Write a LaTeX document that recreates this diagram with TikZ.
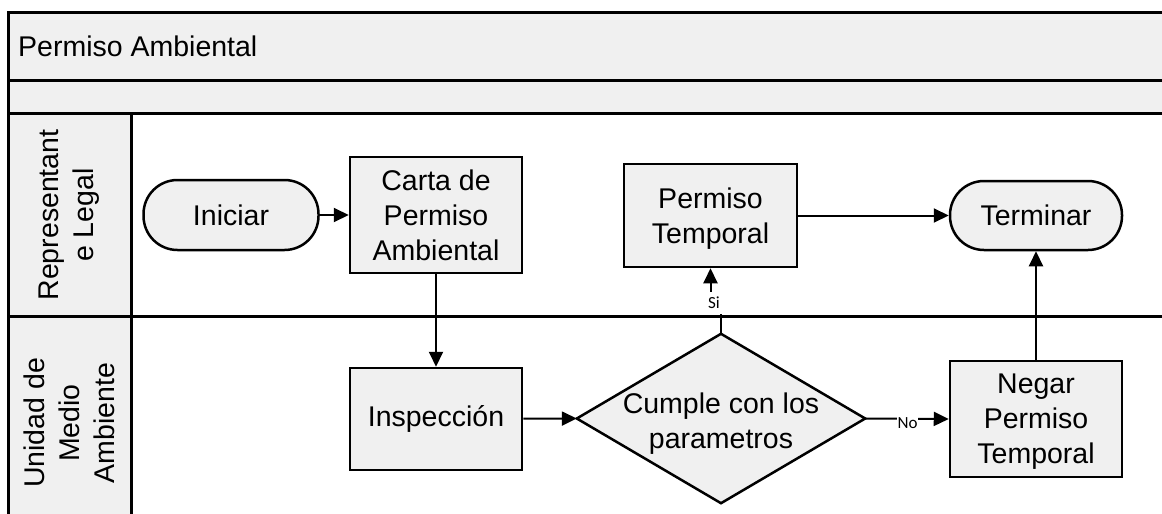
\documentclass[tikz,border=0pt]{standalone}
\usepackage{fontspec}
\setmainfont{Liberation Sans}
\newfontfamily\lblfont{Carlito}
\usetikzlibrary{arrows.meta}
\definecolor{boxgray}{HTML}{F0F0F0}
\tikzset{
  frameline/.style={line width=3pt},
  maintext/.style={font=\fontsize{28.5}{35}\selectfont, align=center, inner sep=0pt},
  procbox/.style={draw, line width=2.5pt, fill=boxgray, minimum width=172pt, align=center, inner sep=0pt, font=\fontsize{28.5}{35}\selectfont},
  termbox/.style={procbox, rounded corners=34pt, minimum height=69pt},
  conn/.style={line width=2pt, -{Triangle[length=15pt,width=14pt]}},
  cond/.style={font=\lblfont\fontsize{17}{20}\selectfont, fill=white, inner sep=1pt},
}
\begin{document}
\begin{tikzpicture}[x=1pt,y=-1pt]
\useasboundingbox (0,0) rectangle (1162,514);
% pool and lanes
\fill[boxgray] (8,12) rectangle (1175,113);
\fill[boxgray] (8,113) rectangle (131,525);
\draw[frameline] (1175,12) -- (8,12) -- (8,525);
\draw[frameline] (8,80) -- (1175,80);
\draw[frameline] (8,113) -- (1175,113);
\draw[frameline] (8,316) -- (1175,316);
\draw[frameline] (131,113) -- (131,525);
\node[maintext, anchor=west] (title) at (18,46) {Permiso Ambiental};
\node[maintext, rotate=90] (lane1) at (69.5,215) {Representant\\e Legal};
\node[maintext, rotate=90] (lane2) at (69.5,423) {Unidad de\\Medio\\Ambiente};
% shapes
\node[termbox, minimum width=175pt, minimum height=70pt] (ini) at (231,215) {Iniciar};
\node[procbox, minimum height=116pt] (carta) at (436,215) {Carta de\\Permiso\\Ambiental};
\node[procbox, minimum width=173pt, minimum height=103pt, text depth=0pt] (pt) at (710.5,215.5) {Permiso\\Temporal};
\node[termbox] (fin) at (1036,215.5) {Terminar};
\node[procbox, minimum height=102pt] (insp) at (436,419) {Inspección};
\node[minimum width=288pt, minimum height=169pt, inner sep=0pt] (dia) at (721,418.5) {};
\draw[line width=2.5pt, fill=boxgray] (dia.north) -- (dia.east) -- (dia.south) -- (dia.west) -- cycle;
\node[maintext, text depth=0pt] (diatext) at (721,421) {Cumple con los\\parametros};
\node[procbox, minimum height=116pt, text depth=0pt] (neg) at (1036,419) {Negar\\Permiso\\Temporal};
% connectors
\draw[conn] (ini) -- (carta);
\draw[conn] (carta) -- (insp);
\draw[conn] (insp) -- (dia.west);
\coordinate (sibend) at (721,303);
\draw[conn] (dia.north) -- (sibend) -| (pt.south);
\node[cond, minimum width=20pt, minimum height=22pt] (si) at (714,302.5) {Si};
\draw[conn] (pt) -- (fin);
\draw[conn] (dia.east) -- (neg.west);
\node[cond] (no) at (907.5,423) {No};
\draw[conn] (neg) -- (fin);
\end{tikzpicture}
\end{document}
